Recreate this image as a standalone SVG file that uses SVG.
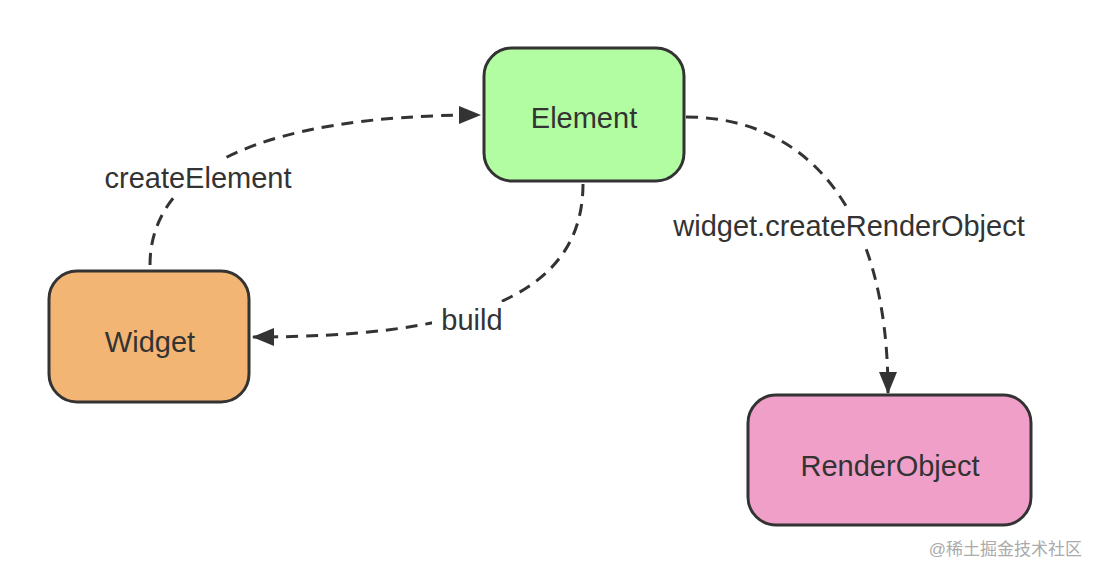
<svg xmlns="http://www.w3.org/2000/svg" width="1099" height="576" viewBox="0 0 1099 576">
<style>
.n{stroke:#333;stroke-width:3}
.t{font-family:"Liberation Sans",Arial,sans-serif;font-size:29px;fill:#333;text-anchor:middle;dominant-baseline:central}
.c{fill:none;stroke:#333;stroke-width:3;stroke-dasharray:12 8}
.lb{fill:#fff}
</style>
<defs><marker id="a" markerWidth="10" markerHeight="10" refX="9" refY="5" orient="auto" markerUnits="userSpaceOnUse" viewBox="0 0 10 10"><path d="M0,0L10,5L0,10z" fill="#333"/></marker>
<marker id="b" markerWidth="22" markerHeight="18" refX="21" refY="9" orient="auto" markerUnits="userSpaceOnUse"><path d="M0,0L22,9L0,18z" fill="#333"/></marker></defs>
<rect width="1099" height="576" fill="#fff"/>
<g id="connectors">
<path class="c" d="M150,265 C150,170 260,115 480,115" marker-end="url(#b)"/>
<path class="c" d="M583,184 C583,300 460,337 253,337" marker-end="url(#b)"/>
<path class="c" d="M686,117 C800,117 888,200 888,393" marker-end="url(#b)"/>
<rect class="lb" x="80" y="160" width="236" height="36"/>
<text class="t" x="198" y="178">createElement</text>
<rect class="lb" x="432" y="302" width="80" height="36"/>
<text class="t" x="472" y="320">build</text>
<rect class="lb" x="626" y="208" width="446" height="36"/>
<text class="t" x="849" y="226">widget.createRenderObject</text>
</g>
<g id="element"><rect class="n" x="484" y="48" width="200" height="133" rx="28" fill="#b2fca2"/><text class="t" x="584" y="118" font-size="27">Element</text></g>
<g id="widget"><rect class="n" x="49" y="271" width="200" height="131" rx="28" fill="#f2b574"/><text class="t" x="150" y="342">Widget</text></g>
<g id="renderobject"><rect class="n" x="748" y="395" width="283" height="130" rx="28" fill="#f0a0c8"/><text class="t" x="890" y="466">RenderObject</text></g>
<text x="1082" y="549" font-family="'Liberation Sans','Noto Sans CJK SC',sans-serif" font-size="17" fill="#aaa" text-anchor="end" dominant-baseline="central">@稀土掘金技术社区</text>
</svg>
